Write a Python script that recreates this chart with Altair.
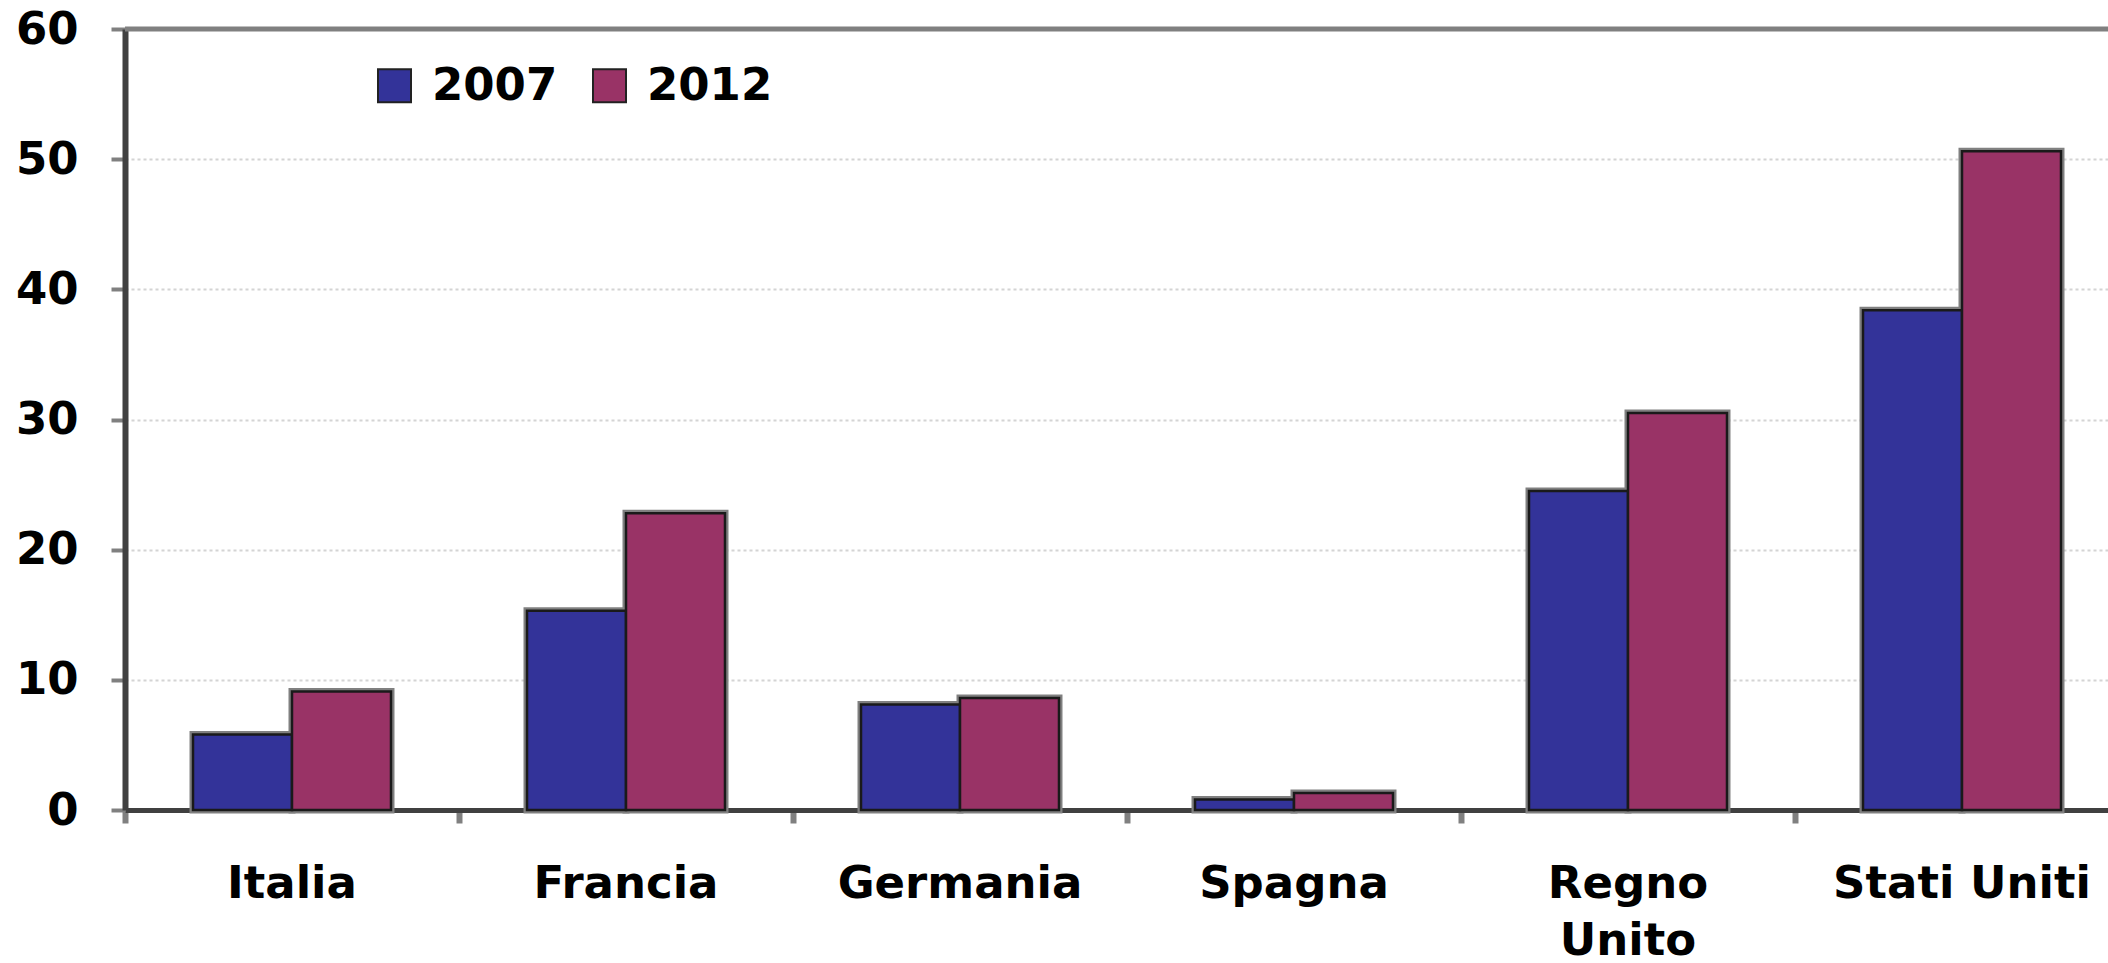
import altair as alt
import pandas as pd

countries = ["Italia", "Francia", "Germania", "Spagna", "Regno Unito", "Stati Uniti"]
years = ["2007", "2012"]
v2007 = [5.8, 15.3, 8.1, 0.8, 24.5, 38.4]
v2012 = [9.1, 22.8, 8.6, 1.3, 30.5, 50.6]
colors = ["#333399", "#993366"]
y_ticks = [0, 10, 20, 30, 40, 50, 60]
top_line = [60]

rows = []
for c, a, b in zip(countries, v2007, v2012):
    rows.append({"paese": c, "anno": "2007", "valore": a})
    rows.append({"paese": c, "anno": "2012", "valore": b})
df = pd.DataFrame(rows)

FONT = "DejaVu Sans"

x_enc = alt.X(
    "paese:N",
    sort=countries,
    scale=alt.Scale(paddingInner=0, paddingOuter=0, range=[0, 2004]),
    axis=alt.Axis(
        title=None, labelAngle=0, labelFont=FONT, labelFontWeight="bold",
        labelFontSize=45, labelColor="black", labelPadding=38,
        labelLineHeight=57, labelLimit=0, labelOverlap=False,
        labelExpr="datum.label == 'Regno Unito' ? ['Regno', 'Unito'] : datum.label",
        domainColor="#404040", domainWidth=5, tickColor="#808080",
        tickWidth=6, tickSize=13, bandPosition=0, grid=False,
    ),
)
xo_enc = alt.XOffset("anno:N", sort=years, scale=alt.Scale(paddingInner=0, paddingOuter=0.687))
y_enc = alt.Y(
    "valore:Q",
    scale=alt.Scale(domain=[0, 60], nice=False, zero=True),
    axis=alt.Axis(
        title=None, values=y_ticks, format="d", labelFont=FONT,
        labelFontWeight="bold", labelFontSize=45, labelColor="black",
        labelPadding=33, domainColor="#404040", domainWidth=6,
        tickColor="#808080", tickWidth=4, tickSize=14,
        grid=True, gridColor="#d4d4d4", gridDash=[3, 3], gridWidth=2,
    ),
)

shadow = alt.Chart(df).mark_bar(color="#808080", stroke="#808080", strokeWidth=7).encode(
    x=x_enc, xOffset=xo_enc, y=y_enc
)

bars = alt.Chart(df).mark_bar(stroke="#1a1a1a", strokeWidth=2.5).encode(
    x=x_enc, xOffset=xo_enc, y=y_enc,
    color=alt.Color(
        "anno:N", sort=years,
        scale=alt.Scale(domain=years, range=colors),
        legend=alt.Legend(
            title=None, orient="none", legendX=247, legendY=34,
            direction="horizontal", symbolType="square", symbolSize=1089,
            symbolStrokeColor="#222222", symbolStrokeWidth=2, symbolOpacity=1,
            labelFont=FONT, labelFontWeight="bold", labelFontSize=45,
            labelColor="black", labelOffset=15, columnPadding=29,
        ),
    ),
)

rule = alt.Chart(pd.DataFrame({"v": top_line})).mark_rule(color="#808080", strokeWidth=5).encode(
    y=alt.Y("v:Q", scale=alt.Scale(domain=[0, 60], nice=False))
)

chart = alt.layer(shadow, bars, rule).properties(
    width=1983, height=781,
    autosize=alt.AutoSizeParams(type="none"),
    padding={"left": 125, "top": 29, "right": 0, "bottom": 153},
    background="white",
).configure_view(stroke=None)

chart.save("out.html", embed_options={"renderer": "svg", "actions": False})
